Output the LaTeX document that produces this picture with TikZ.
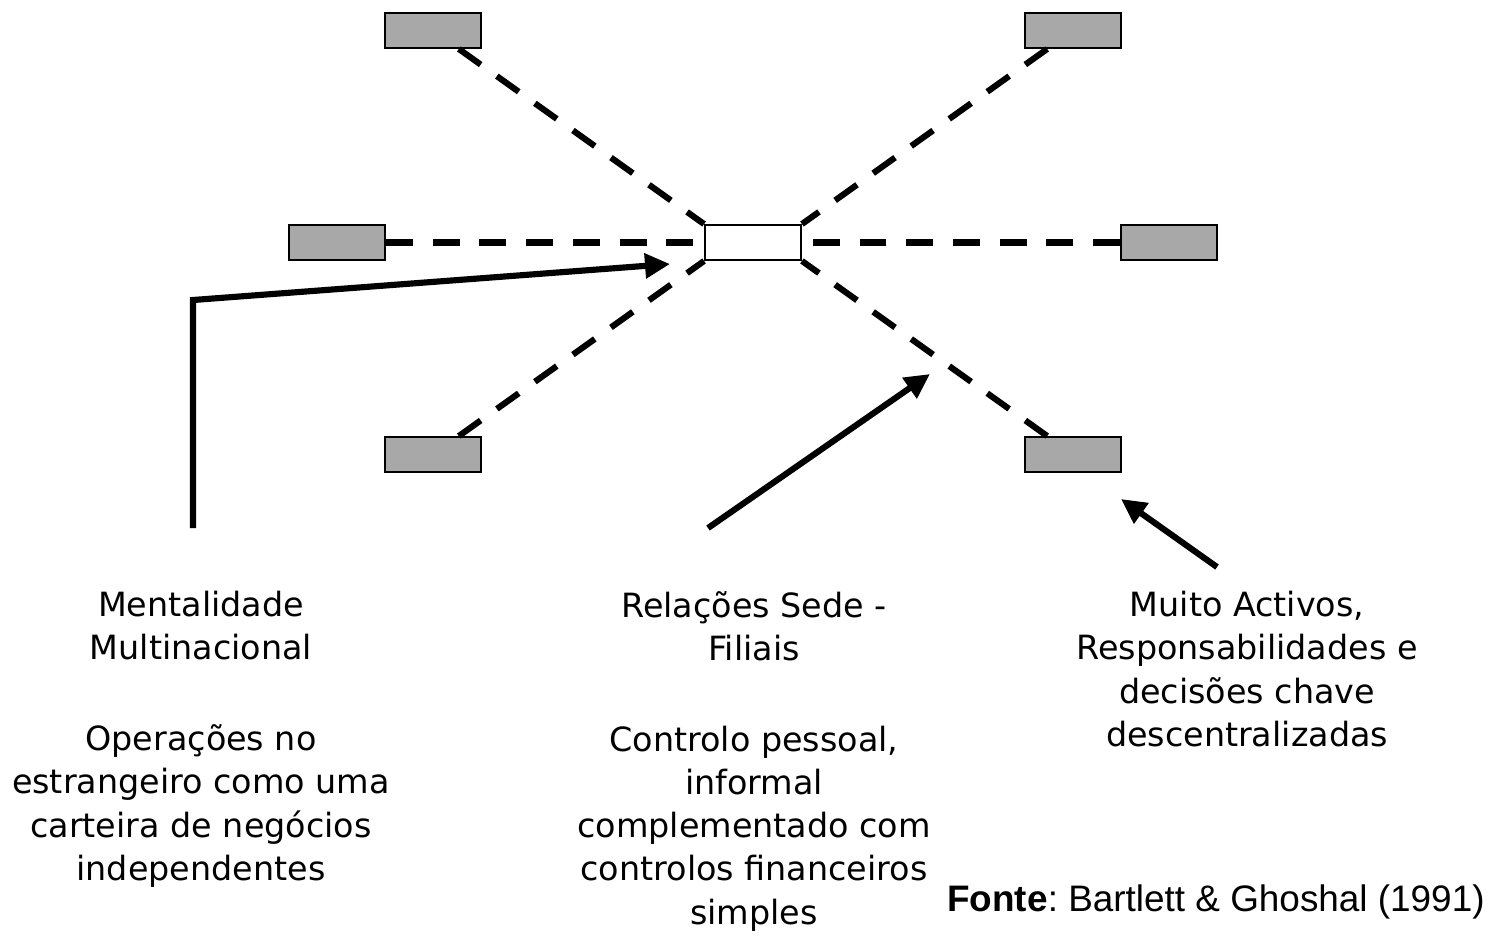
\documentclass[tikz,border=0pt]{standalone}
\usepackage{fontspec}
\setmainfont{DejaVu Sans}
\newfontfamily\sourcefont{Liberation Sans}
\usetikzlibrary{arrows.meta}
\begin{document}
\begin{tikzpicture}[x=0.02cm,y=-0.02cm,
  unit/.style={draw=unitborder,line width=1.1pt,fill=unitfill,minimum width=1.92cm,minimum height=0.7cm,inner sep=0pt},
  hq/.style={unit,fill=white},
  link/.style={line width=3.5pt,dash pattern=on 15.3pt off 11.3pt},
  pointer/.style={line width=3.5pt,-{Triangle[length=0.5cm,width=0.48cm]}},
  caption/.style={align=center,inner sep=0pt,anchor=north,font=\fontsize{19}{24.6}\selectfont}]
\definecolor{unitborder}{RGB}{0,0,0}
\definecolor{unitfill}{RGB}{168,168,168}
\useasboundingbox (0,0) rectangle (1493,938);
\node [hq] (hq) at (753,242.5) {};
\node [unit] (tl) at (433,30.5) {};
\node [unit] (tr) at (1073,30.5) {};
\node [unit] (ml) at (337,242.5) {};
\node [unit] (mr) at (1169,242.5) {};
\node [unit] (bl) at (433,454.5) {};
\node [unit] (br) at (1073,454.5) {};
\draw (tl) [link] -- (hq.north west);
\draw (tr) [link] -- (hq.north east);
\draw (ml) [link] -- (hq.west);
\draw (mr) [link] -- (hq.east);
\draw (bl) [link] -- (hq.south west);
\draw (br) [link] -- (hq.south east);
\coordinate (mfrom) at (193,528);
\coordinate (mbend) at (193,300);
\coordinate (mto) at (670,264);
\coordinate (rfrom) at (708,528);
\coordinate (rto) at (930,374);
\coordinate (afrom) at (1217,567);
\coordinate (ato) at (1121,499);
\draw (mfrom) [pointer] -- (mbend) -- (mto);
\draw (rfrom) [pointer] -- (rto);
\draw (afrom) [pointer] -- (ato);
\node [caption] (mindset) at (201,591) {Mentalidade\\Multinacional\\[27pt]Operações no\\estrangeiro como uma\\carteira de negócios\\independentes};
\node [caption] (relations) at (754,591) {Relações Sede -\\Filiais\\[27pt]Controlo pessoal,\\informal\\complementado com\\controlos financeiros\\simples};
\node [caption] (assets) at (1247,591) {Muito Activos,\\Responsabilidades e\\decisões chave\\descentralizadas};
\node [anchor=base west,inner sep=0pt,font=\sourcefont\fontsize{21}{25}\selectfont\frenchspacing] (source) at (947,911) {\textbf{Fonte}: Bartlett \& Ghoshal (1991)};
\end{tikzpicture}
\end{document}
